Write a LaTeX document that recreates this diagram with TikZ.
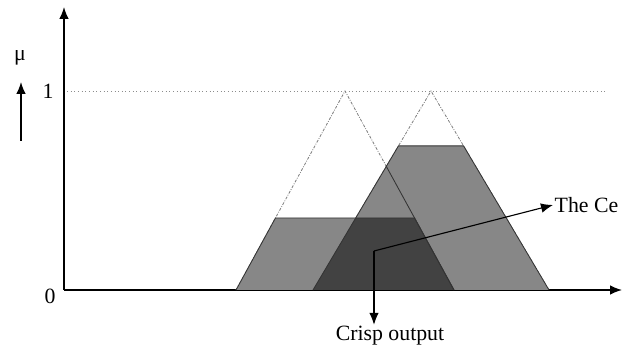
\documentclass[tikz,border=0pt]{standalone}
\usepackage{fontspec}
\setmainfont{Liberation Serif}
\usetikzlibrary{arrows.meta, calc}

\begin{document}
\begin{tikzpicture}[
  x=0.025cm, y=-0.025cm,
  every node/.style={font=\fontsize{15.5}{18}\selectfont, inner sep=1pt},
  axis/.style={line width=1pt, -{Latex[length=3mm, width=2.4mm]}},
  pointer/.style={line width=0.8pt, -{Latex[length=3mm, width=2.4mm]}},
  level/.style={black!45, line width=0.6pt, dotted},
  tri/.style={black!50, line width=0.6pt, dash pattern=on 2pt off 1pt on 0.6pt off 1pt},
  area/.style={fill=black!47},
  overlap/.style={fill=black!74},
  rim/.style={draw=black!80, line width=0.6pt},
]
\useasboundingbox (0,0) rectangle (631,352);

% Axes
\coordinate (origin) at (64,290);
\coordinate (ytop) at (64,7);
\coordinate (xend) at (622,290);
\draw[axis] (origin) -- (ytop);
\draw[axis] (origin) -- (xend);

% Axis labels
\node (mu) at (20,58) {μ};
\coordinate (mubase) at (21,141);
\coordinate (mutip) at (21,82);
\draw[axis] (mubase) -- (mutip);
\node (one) at (48,91) {1};
\node (zero) at (50,296) {0};

% Level 1
\coordinate (lvlstart) at (67,91);
\coordinate (lvlend) at (605,91);
\draw[level] (lvlstart) -- (lvlend);

% Triangles
\coordinate (t1l) at (236,290);
\coordinate (t1p) at (345,91);
\coordinate (t1r) at (454,290);
\coordinate (t2l) at (313,290);
\coordinate (t2p) at (431,91);
\coordinate (t2r) at (549,290);
\draw[tri] (t1l) -- (t1p) -- (t1r);
\draw[tri] (t2l) -- (t2p) -- (t2r);

% Clipped sets
\coordinate (a1) at ($(t1l)!0.362!(t1p)$);
\coordinate (b1) at ($(t1r)!0.362!(t1p)$);
\coordinate (a2) at ($(t2l)!0.724!(t2p)$);
\coordinate (b2) at ($(t2r)!0.724!(t2p)$);
\fill[area] (t1l) -- (a1) -- (b1) -- (t1r) -- cycle;
\fill[area] (t2l) -- (a2) -- (b2) -- (t2r) -- cycle;
\begin{scope}
  \clip (t2l) -- (a2) -- (b2) -- (t2r) -- cycle;
  \fill[overlap] (t1l) -- (a1) -- (b1) -- (t1r) -- cycle;
  \draw[rim] (t1p) -- (t1r);
\end{scope}
\draw[rim] (t1l) -- (a1) -- (b1) -- (t1r);
\draw[rim] (t2l) -- (a2) -- (b2) -- (t2r);

% Centroid
\coordinate (bend) at (374,251);
\node[anchor=west] (centroid) at (553,205) {The Ce};
\node (crisp) at (390,336) {Crisp output};
\draw[pointer] (bend) -- (centroid.west);
\draw[pointer] (bend) -- (crisp.north -| bend);

\end{tikzpicture}
\end{document}
